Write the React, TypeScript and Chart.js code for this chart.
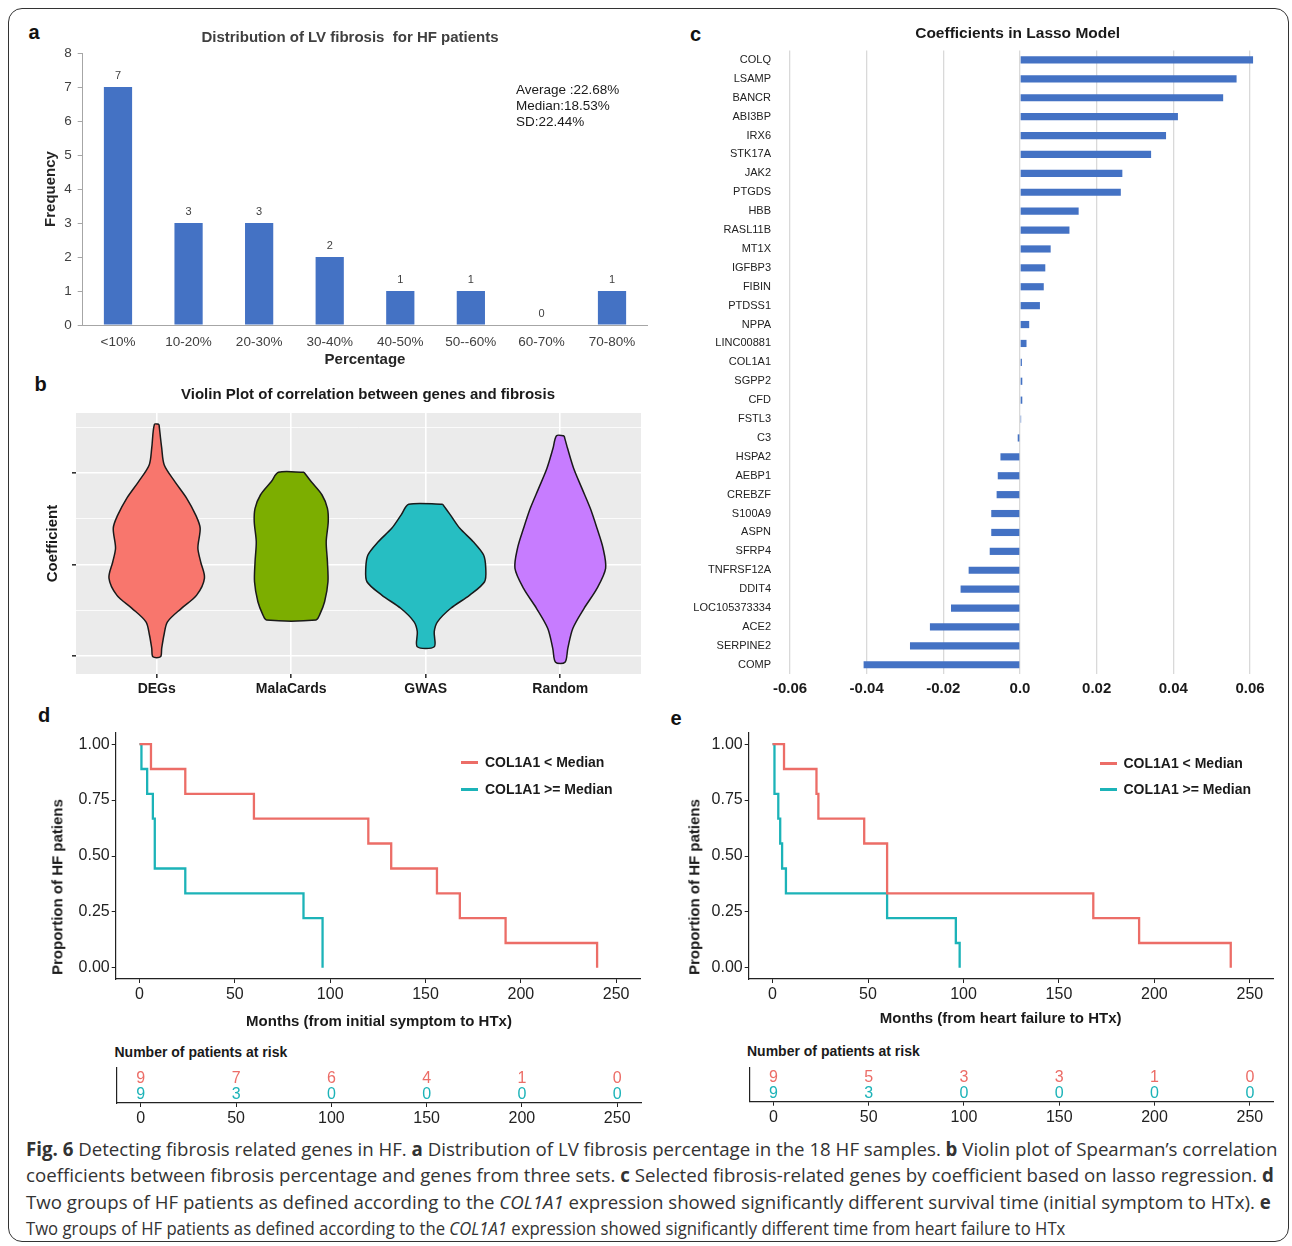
import React, { useEffect, useRef } from "react";
import { Chart, registerables } from "chart.js";
Chart.register(...registerables);

const FONT = "'Liberation Sans', Arial, Helvetica, sans-serif";
Chart.defaults.font.family = FONT;
Chart.defaults.color = "#222";

// ---------- Panel a ----------
const fibrosisBins = ["<10%", "10-20%", "20-30%", "30-40%", "40-50%", "50--60%", "60-70%", "70-80%"];
const fibrosisCounts = [7, 3, 3, 2, 1, 1, 0, 1];
const fibrosisStats = ["Average :22.68%", "Median:18.53%", "SD:22.44%"];

// ---------- Panel b (coefficient, density half-width) ----------
const violinGroups = ["DEGs", "MalaCards", "GWAS", "Random"];
const violinDEGs: [number, number][] = [
  [0.766, 0.017], [0.637, 0.037], [0.544, 0.056], [0.452, 0.136], [0.362, 0.223], [0.27, 0.29],
  [0.199, 0.323], [0.09, 0.306], [0.014, 0.327], [-0.074, 0.355], [-0.167, 0.297], [-0.238, 0.186],
  [-0.313, 0.08], [-0.385, 0.054], [-0.458, 0.037], [-0.504, 0.028],
];
const violinMalaCards: [number, number][] = [
  [0.504, 0.095], [0.452, 0.149], [0.38, 0.229], [0.307, 0.269], [0.234, 0.275], [0.125, 0.26],
  [0.015, 0.269], [-0.094, 0.273], [-0.203, 0.248], [-0.276, 0.21], [-0.303, 0.184],
];
const violinGWAS: [number, number][] = [
  [0.329, 0.126], [0.27, 0.184], [0.198, 0.253], [0.125, 0.353], [0.052, 0.43], [-0.021, 0.446],
  [-0.094, 0.437], [-0.167, 0.327], [-0.239, 0.186], [-0.313, 0.087], [-0.367, 0.063], [-0.449, 0.063],
];
const violinRandom: [number, number][] = [
  [0.704, 0.028], [0.635, 0.054], [0.526, 0.099], [0.416, 0.161], [0.307, 0.223], [0.198, 0.273],
  [0.089, 0.318], [-0.021, 0.337], [-0.13, 0.273], [-0.239, 0.177], [-0.349, 0.093], [-0.458, 0.056],
  [-0.534, 0.035],
];
const violinMajorTicks = [-0.5, 0, 0.5];
const violinMinorTicks = [-0.25, 0.25, 0.75];

// ---------- Panel c ----------
const lassoGenes = [
  "COLQ", "LSAMP", "BANCR", "ABI3BP", "IRX6", "STK17A", "JAK2", "PTGDS", "HBB", "RASL11B", "MT1X",
  "IGFBP3", "FIBIN", "PTDSS1", "NPPA", "LINC00881", "COL1A1", "SGPP2", "CFD", "FSTL3", "C3", "HSPA2",
  "AEBP1", "CREBZF", "S100A9", "ASPN", "SFRP4", "TNFRSF12A", "DDIT4", "LOC105373334", "ACE2",
  "SERPINE2", "COMP",
];
const lassoCoefficients = [
  0.0608, 0.0565, 0.053, 0.0412, 0.0381, 0.0342, 0.0267, 0.0263, 0.0153, 0.0129, 0.008, 0.0066, 0.0062,
  0.0052, 0.0024, 0.0017, 0.0005, 0.0006, 0.0006, 0.0003, -0.0006, -0.0051, -0.0058, -0.0061, -0.0075,
  -0.0075, -0.0079, -0.0134, -0.0155, -0.018, -0.0235, -0.0287, -0.0408,
];
const lassoTicks = [-0.06, -0.04, -0.02, 0, 0.02, 0.04, 0.06];

// ---------- Panels d / e ----------
const kmTicksX = [0, 50, 100, 150, 200, 250];
const kmTicksY = [0, 0.25, 0.5, 0.75, 1];
const seriesNames = ["COL1A1 < Median", "COL1A1 >= Median"];
const dLowTime = [0, 6, 24, 60, 120, 132, 156, 168, 192, 240];
const dLowSurv = [1, 0.889, 0.778, 0.667, 0.556, 0.444, 0.333, 0.222, 0.111, 0];
const dHighTime = [0, 1, 4, 7, 8, 24, 86, 96];
const dHighSurv = [1, 0.889, 0.778, 0.667, 0.444, 0.333, 0.222, 0];
const eLowTime = [0, 6, 23, 24, 48, 60, 168, 192, 240];
const eLowSurv = [1, 0.889, 0.778, 0.667, 0.556, 0.333, 0.222, 0.111, 0];
const eHighTime = [0, 1, 3, 4, 5, 7, 60, 96, 98];
const eHighSurv = [1, 0.778, 0.667, 0.556, 0.444, 0.333, 0.222, 0.111, 0];
const riskTimes = [0, 50, 100, 150, 200, 250];
const dRiskLow = [9, 7, 6, 4, 1, 0];
const dRiskHigh = [9, 3, 0, 0, 0, 0];
const eRiskLow = [9, 5, 3, 3, 1, 0];
const eRiskHigh = [9, 3, 0, 0, 0, 0];

// ---------- styles ----------
const BAR_BLUE = "#4472C4";
const violinColors = ["#F8766D", "#7CAE00", "#26BEC2", "#C77CFF"];
const RED = "#EC6D67";
const TEAL = "#1CB3B8";

const fixW = (w: number) => (s: any) => { s.width = w; s.paddingTop = 0; s.paddingBottom = 0; };
const fixH = (h: number) => (s: any) => { s.height = h; s.paddingLeft = 0; s.paddingRight = 0; };
const setTicks = (vals: number[]) => (s: any) => { s.ticks = vals.map((v) => ({ value: v })); };

const barValueLabels = {
  id: "barValueLabels",
  afterDatasetsDraw(chart: any) {
    const { ctx } = chart;
    const meta = chart.getDatasetMeta(0);
    const vals = chart.data.datasets[0].data;
    ctx.save();
    ctx.font = `11px ${FONT}`;
    ctx.fillStyle = "#404040";
    ctx.textAlign = "center";
    ctx.textBaseline = "bottom";
    meta.data.forEach((el: any, i: number) => ctx.fillText(String(vals[i]), el.x, el.y - 6));
    ctx.restore();
  },
};

const panelBackground = {
  id: "panelBackground",
  beforeDraw(chart: any) {
    const { ctx, chartArea: a } = chart;
    ctx.save();
    ctx.fillStyle = "#EBEBEB";
    ctx.fillRect(a.left, a.top, a.right - a.left, a.bottom - a.top);
    ctx.restore();
  },
};

function violinOutline(center: number, profile: [number, number][]) {
  const right = profile.map(([y, w]) => ({ x: center + w, y }));
  const left = profile.slice().reverse().map(([y, w]) => ({ x: center - w, y }));
  return [...right, ...left, right[0]];
}

function ChartCanvas({ left, top, width, height, make }: any) {
  const ref = useRef<HTMLCanvasElement>(null);
  useEffect(() => {
    const chart = new Chart(ref.current as HTMLCanvasElement, make());
    return () => chart.destroy();
  }, []);
  return (
    <canvas ref={ref} width={width} height={height}
      style={{ position: "absolute", left, top, width, height }} />
  );
}

const noPlugins = { legend: { display: false }, tooltip: { enabled: false } };

function makeBarA() {
  return {
    type: "bar",
    data: {
      labels: fibrosisBins,
      datasets: [{ data: fibrosisCounts, backgroundColor: BAR_BLUE, barPercentage: 0.4, categoryPercentage: 1 }],
    },
    options: {
      responsive: false, animation: false,
      layout: { padding: { left: 0, top: 53, right: 22.7, bottom: 0 } },
      plugins: noPlugins,
      scales: {
        x: {
          grid: { drawOnChartArea: false, drawTicks: false },
          border: { color: "#A6A6A6" },
          ticks: { color: "#404040", font: { size: 13.5 }, padding: 9, maxRotation: 0, autoSkip: false },
          title: { display: true, text: "Percentage", color: "#262626", font: { size: 15, weight: "bold" }, padding: { top: 0, bottom: 11 } },
          afterFit: fixH(55),
        },
        y: {
          min: 0, max: 8,
          ticks: { stepSize: 1, color: "#404040", font: { size: 13.5 }, padding: 6 },
          grid: { drawOnChartArea: false, tickLength: 5, color: "#A6A6A6" },
          border: { color: "#A6A6A6" },
          title: { display: true, text: "Frequency", color: "#262626", font: { size: 15, weight: "bold" }, padding: { top: 42, bottom: 0 } },
          afterFit: fixW(82.7),
        },
      },
    },
    plugins: [barValueLabels],
  };
}

function makeViolinB() {
  const profiles = [violinDEGs, violinMalaCards, violinGWAS, violinRandom];
  const isMajor = (v: number) => violinMajorTicks.some((m) => Math.abs(m - v) < 1e-6);
  return {
    type: "scatter",
    data: {
      datasets: profiles.map((p, i) => ({
        data: violinOutline(i + 1, p),
        showLine: true, fill: "shape", tension: 0.3,
        backgroundColor: violinColors[i], borderColor: "#1a1a1a", borderWidth: 1.5,
        pointRadius: 0, pointHoverRadius: 0,
      })),
    },
    options: {
      responsive: false, animation: false,
      layout: { padding: { left: 0, top: 18, right: 19, bottom: 0 } },
      plugins: noPlugins,
      scales: {
        x: {
          type: "linear", min: 0.4, max: 4.6,
          afterBuildTicks: setTicks([1, 2, 3, 4]),
          ticks: { callback: (v: number) => violinGroups[Math.round(v) - 1], color: "#1a1a1a", font: { size: 14, weight: "bold" }, padding: 3, maxRotation: 0, autoSkip: false },
          grid: { color: "#FFFFFF", lineWidth: 1.6, tickColor: "#333", tickLength: 4 },
          border: { display: false },
          afterFit: fixH(31),
        },
        y: {
          type: "linear", min: -0.598, max: 0.828,
          afterBuildTicks: setTicks([...violinMajorTicks, ...violinMinorTicks].sort((a, b) => a - b)),
          ticks: { callback: () => "", padding: 0 },
          grid: {
            color: "#FFFFFF",
            lineWidth: (c: any) => (isMajor(c.tick.value) ? 1.6 : 0.8),
            tickColor: (c: any) => (isMajor(c.tick.value) ? "#333" : "rgba(0,0,0,0)"),
            tickLength: 4,
          },
          border: { display: false },
          title: { display: true, text: "Coefficient", color: "#1a1a1a", font: { size: 15, weight: "bold" }, padding: { top: 44, bottom: 0 } },
          afterFit: fixW(76),
        },
      },
    },
    plugins: [panelBackground],
  };
}

function makeLassoC() {
  return {
    type: "bar",
    data: {
      labels: lassoGenes,
      datasets: [{ data: lassoCoefficients, backgroundColor: BAR_BLUE, barPercentage: 0.38, categoryPercentage: 1, clip: false }],
    },
    options: {
      indexAxis: "y",
      responsive: false, animation: false,
      layout: { padding: { left: 0, top: 10.5, right: 30, bottom: 0 } },
      plugins: noPlugins,
      scales: {
        x: {
          type: "linear", min: -0.06, max: 0.06,
          afterBuildTicks: setTicks(lassoTicks),
          ticks: { callback: (v: number) => (Math.abs(v) < 1e-9 ? "0.0" : v.toFixed(2)), color: "#1a1a1a", font: { size: 15, weight: "bold" }, padding: 6, maxRotation: 0, autoSkip: false },
          grid: { color: "#D9D9D9", lineWidth: 1.3, drawTicks: false },
          border: { display: false },
          afterFit: fixH(35.8),
        },
        y: {
          ticks: { color: "#222", font: { size: 11 }, padding: 11, autoSkip: false },
          grid: { display: false },
          border: { display: false },
          afterFit: fixW(110),
        },
      },
    },
  };
}

function makeKM(lowT: number[], lowS: number[], highT: number[], highS: number[], yAxisW: number, padRight: number) {
  const pts = (t: number[], s: number[]) => t.map((x, i) => ({ x, y: s[i] }));
  return {
    type: "line",
    data: {
      datasets: [
        { label: seriesNames[0], data: pts(lowT, lowS), borderColor: RED, borderWidth: 2.3, stepped: true, pointRadius: 0, fill: false },
        { label: seriesNames[1], data: pts(highT, highS), borderColor: TEAL, borderWidth: 2.3, stepped: true, pointRadius: 0, fill: false },
      ],
    },
    options: {
      responsive: false, animation: false,
      layout: { padding: { left: 0, top: 13, right: padRight, bottom: 0 } },
      plugins: noPlugins,
      scales: {
        x: {
          type: "linear", min: -12.5, max: 262.5,
          afterBuildTicks: setTicks(kmTicksX),
          ticks: { color: "#222", font: { size: 16 }, padding: 2, maxRotation: 0 },
          grid: { drawOnChartArea: false, color: "#222", tickLength: 4, lineWidth: 1 },
          border: { color: "#222", width: 1.2 },
          afterFit: fixH(41),
        },
        y: {
          type: "linear", min: -0.05, max: 1.05,
          afterBuildTicks: setTicks(kmTicksY),
          ticks: { callback: (v: number) => v.toFixed(2), color: "#222", font: { size: 16 }, padding: 2 },
          grid: { drawOnChartArea: false, color: "#222", tickLength: 4, lineWidth: 1 },
          border: { color: "#222", width: 1.2 },
          afterFit: fixW(yAxisW),
        },
      },
    },
  };
}

function makeRisk(low: number[], high: number[], yAxisW: number, padTop: number, padRight: number, xH: number) {
  const riskNumbers = {
    id: "riskNumbers",
    afterDatasetsDraw(chart: any) {
      const { ctx, scales } = chart;
      ctx.save();
      ctx.font = `16px ${FONT}`;
      ctx.textAlign = "center";
      ctx.textBaseline = "middle";
      riskTimes.forEach((t, i) => {
        const x = scales.x.getPixelForValue(t);
        ctx.fillStyle = RED;
        ctx.fillText(String(low[i]), x, scales.y.getPixelForValue(2.1));
        ctx.fillStyle = TEAL;
        ctx.fillText(String(high[i]), x, scales.y.getPixelForValue(0.75));
      });
      ctx.restore();
    },
  };
  return {
    type: "scatter",
    data: { datasets: [{ data: [] }] },
    options: {
      responsive: false, animation: false,
      layout: { padding: { left: 0, top: padTop, right: padRight, bottom: 0 } },
      plugins: noPlugins,
      scales: {
        x: {
          type: "linear", min: -12.5, max: 262.5,
          afterBuildTicks: setTicks(riskTimes),
          ticks: { color: "#222", font: { size: 16 }, padding: 2, maxRotation: 0 },
          grid: { drawOnChartArea: false, color: "#222", tickLength: 4, lineWidth: 1 },
          border: { color: "#222", width: 1.2 },
          afterFit: fixH(xH),
        },
        y: {
          type: "linear", min: 0, max: 3,
          ticks: { display: false },
          grid: { display: false },
          border: { color: "#222", width: 1.2 },
          afterFit: fixW(yAxisW),
        },
      },
    },
    plugins: [riskNumbers],
  };
}

function Txt({ x, y, children, size = 14, bold = false, color = "#1a1a1a", align = "center", rotate = false, family = FONT }: any) {
  const tx = align === "center" ? "-50%" : "0";
  const transform = rotate ? "translate(-50%,-50%) rotate(-90deg)" : `translate(${tx},-50%)`;
  return (
    <div style={{
      position: "absolute", left: x, top: y, transform, whiteSpace: "nowrap",
      fontFamily: family, fontSize: size, fontWeight: bold ? "bold" : "normal", color, lineHeight: 1.15,
    }}>{children}</div>
  );
}

function LegendItem({ x, y, color, label }: any) {
  return (
    <>
      <div style={{ position: "absolute", left: x, top: y - 1.5, width: 17, height: 3, background: color }} />
      <Txt x={x + 24} y={y} size={14} bold align="left">{label}</Txt>
    </>
  );
}

const captionLines: { text: React.ReactNode; width: number }[] = [
  {
    text: (<><b>Fig. 6</b> Detecting fibrosis related genes in HF. <b>a</b> Distribution of LV fibrosis percentage in the 18 HF samples. <b>b</b> Violin plot of Spearman’s correlation</>),
    width: 1251,
  },
  {
    text: (<>coefficients between fibrosis percentage and genes from three sets. <b>c</b> Selected fibrosis-related genes by coefficient based on lasso regression. <b>d</b></>),
    width: 1248,
  },
  {
    text: (<>Two groups of HF patients as defined according to the <i>COL1A1</i> expression showed significantly different survival time (initial symptom to HTx). <b>e</b></>),
    width: 1245,
  },
  {
    text: (<>Two groups of HF patients as defined according to the <i>COL1A1</i> expression showed significantly different time from heart failure to HTx</>),
    width: 1039,
  },
];

function CaptionLine({ y, width, children }: any) {
  const ref = useRef<HTMLSpanElement>(null);
  useEffect(() => {
    const el = ref.current;
    if (!el) return;
    const w = el.offsetWidth;
    if (w > 0) el.style.transform = `translateY(-50%) scaleX(${width / w})`;
  }, []);
  return (
    <span ref={ref} style={{
      position: "absolute", left: 26, top: y, display: "inline-block", whiteSpace: "nowrap",
      transformOrigin: "0 50%", transform: "translateY(-50%)",
      fontFamily: "'Open Sans', 'Noto Sans', sans-serif", fontSize: 19, color: "#333", lineHeight: 1.2,
    }}>{children}</span>
  );
}

export default function App() {
  return (
    <div style={{ position: "absolute", left: 0, top: 0, width: 1292, height: 1246, background: "#fff", overflow: "hidden", fontFamily: FONT }}>
      <div style={{ position: "absolute", left: 8, top: 8, width: 1281, height: 1234, border: "1.5px solid #333", borderRadius: 14, boxSizing: "border-box" }} />

      {/* panel letters */}
      <Txt x={34} y={32} size={20} bold color="#111">a</Txt>
      <Txt x={40.5} y={384} size={20} bold color="#111">b</Txt>
      <Txt x={695.5} y={33.5} size={20} bold color="#111">c</Txt>
      <Txt x={44} y={714.5} size={20} bold color="#111">d</Txt>
      <Txt x={676} y={717.5} size={20} bold color="#111">e</Txt>

      {/* panel a */}
      <ChartCanvas left={0} top={0} width={670} height={380} make={makeBarA} />
      <Txt x={350} y={37} size={15} bold color="#404040">Distribution of LV fibrosis&nbsp; for HF patients</Txt>
      {fibrosisStats.map((s, i) => (
        <Txt key={s} x={516} y={89.5 + i * 16.2} size={13.5} align="left" color="#1a1a1a">{s}</Txt>
      ))}

      {/* panel b */}
      <ChartCanvas left={0} top={395} width={660} height={310} make={makeViolinB} />
      <Txt x={368} y={394} size={15} bold>Violin Plot of correlation between genes and fibrosis</Txt>

      {/* panel c */}
      <ChartCanvas left={680} top={40} width={600} height={670} make={makeLassoC} />
      <Txt x={1017.7} y={33} size={15.5} bold>Coefficients in Lasso Model</Txt>

      {/* panel d */}
      <ChartCanvas left={0} top={720} width={660} height={300}
        make={() => makeKM(dLowTime, dLowSurv, dHighTime, dHighSurv, 115.7, 20)} />
      <Txt x={57} y={887} size={15} bold rotate>Proportion of HF patiens</Txt>
      <Txt x={379} y={1020.5} size={15} bold>Months (from initial symptom to HTx)</Txt>
      <LegendItem x={461} y={762.3} color={RED} label={seriesNames[0]} />
      <LegendItem x={461} y={789.3} color={TEAL} label={seriesNames[1]} />
      <Txt x={114.5} y={1051.5} size={14} bold align="left">Number of patients at risk</Txt>
      <ChartCanvas left={0} top={1060} width={660} height={75}
        make={() => makeRisk(dRiskLow, dRiskHigh, 117, 8, 19, 32)} />

      {/* panel e */}
      <ChartCanvas left={640} top={720} width={652} height={300}
        make={() => makeKM(eLowTime, eLowSurv, eHighTime, eHighSurv, 108.7, 18.3)} />
      <Txt x={694.3} y={887} size={15} bold rotate>Proportion of HF patiens</Txt>
      <Txt x={1000.7} y={1017.5} size={15} bold>Months (from heart failure to HTx)</Txt>
      <LegendItem x={1099.5} y={763} color={RED} label={seriesNames[0]} />
      <LegendItem x={1099.5} y={789.3} color={TEAL} label={seriesNames[1]} />
      <Txt x={747} y={1051} size={14} bold align="left">Number of patients at risk</Txt>
      <ChartCanvas left={640} top={1060} width={652} height={75}
        make={() => makeRisk(eRiskLow, eRiskHigh, 109.5, 7.7, 18.3, 33.3)} />

      {/* caption */}
      {captionLines.map((l, i) => (
        <CaptionLine key={i} y={1149 + i * 26.4} width={l.width}>{l.text}</CaptionLine>
      ))}
    </div>
  );
}
